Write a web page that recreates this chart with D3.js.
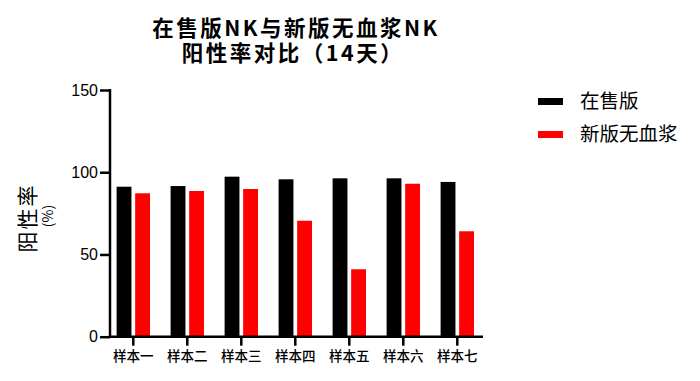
<!DOCTYPE html>
<html><head><meta charset="utf-8">
<script src="https://cdn.jsdelivr.net/npm/d3@7"></script>
<style>body{margin:0;background:#fff}svg{display:block}</style>
</head><body>
<script>
const categories = ["样本一","样本二","样本三","样本四","样本五","样本六","样本七"];
const seriesNames = ["在售版","新版无血浆"];
const onSale = [91.2, 91.6, 97.3, 95.7, 96.3, 96.3, 94.1];
const newVersion = [87.2, 88.6, 89.8, 70.5, 41.0, 93.0, 64.1];
const yTicks = [0, 50, 100, 150];
const colors = ["#000000", "#ff0000"];

const W = 700, H = 381;
const svg = d3.select("body").append("svg").attr("width", W).attr("height", H);
const font = "'Noto Sans CJK SC', sans-serif";

const x = d3.scaleBand().domain(categories).range([106.3, 484.3]).padding(0);
const y = d3.scaleLinear().domain([0, 150]).range([336.7, 90]);
const xSub = d3.scaleBand().domain(seriesNames).range([-16.7, 16.7]).paddingInner(0.2);

const data = categories.map((c, i) => ({c, vals: [onSale[i], newVersion[i]]}));

const g = svg.append("g");
data.forEach(d => {
  d.vals.forEach((v, j) => {
    g.append("rect")
      .attr("x", x(d.c) + x.bandwidth()/2 + xSub(seriesNames[j]))
      .attr("y", y(v))
      .attr("width", xSub.bandwidth())
      .attr("height", y(0) - y(v))
      .attr("fill", colors[j]);
  });
});

// y axis
const yAxis = svg.append("g").attr("transform", "translate(110,0)")
  .call(d3.axisLeft(y).tickValues(yTicks).tickSize(10).tickPadding(2));
yAxis.select(".domain").attr("stroke", "#000").attr("stroke-width", 2.5).attr("d", `M0,${y(150)-1}V${y(0)}`);
yAxis.selectAll(".tick line").attr("stroke", "#000").attr("stroke-width", 2.5);
yAxis.selectAll(".tick text").attr("font-family", "Arial, 'Liberation Sans', sans-serif").attr("font-size", 16).attr("fill", "#000");

// x axis
const xAxis = svg.append("g").attr("transform", `translate(0,${y(0)})`)
  .call(d3.axisBottom(x).tickSize(9).tickPadding(6));
xAxis.select(".domain").attr("stroke", "#000").attr("stroke-width", 2.5).attr("d", `M109,0H483`);
xAxis.selectAll(".tick line").attr("stroke", "#000").attr("stroke-width", 2.5);
xAxis.selectAll(".tick text").attr("font-family", font).attr("font-size", 13.5).attr("font-weight", 500).attr("fill", "#000");

// title
svg.append("text").attr("text-anchor", "middle").attr("font-family", font)
  .attr("font-weight", "bold").attr("font-size", 21.5).attr("letter-spacing", 2.5).attr("fill", "#000")
  .attr("x", 296).attr("y", 36).text("在售版NK与新版无血浆NK");
svg.append("text").attr("text-anchor", "middle").attr("font-family", font)
  .attr("font-weight", "bold").attr("font-size", 21.5).attr("letter-spacing", 2.5).attr("fill", "#000")
  .attr("x", 293).attr("y", 61).text("阳性率对比（14天）");

// y label
svg.append("text").attr("transform", "translate(35,218) rotate(-90)").attr("text-anchor", "middle")
  .attr("font-family", font).attr("font-size", 21).attr("letter-spacing", 2).attr("fill", "#000").text("阳性率");
svg.append("text").attr("transform", "translate(53,216) rotate(-90)").attr("text-anchor", "middle")
  .attr("font-family", font).attr("font-size", 14).attr("fill", "#000").text("(%)");

// legend
seriesNames.forEach((n, i) => {
  const ly = 101.5 + i * 33;
  svg.append("rect").attr("x", 538).attr("y", ly - 3.5).attr("width", 25).attr("height", 7).attr("fill", colors[i]);
  svg.append("text").attr("x", 580).attr("y", ly).attr("dy", "0.35em").attr("font-family", font)
    .attr("font-size", 19.5).attr("fill", "#000").text(n);
});
</script>
</body></html>
